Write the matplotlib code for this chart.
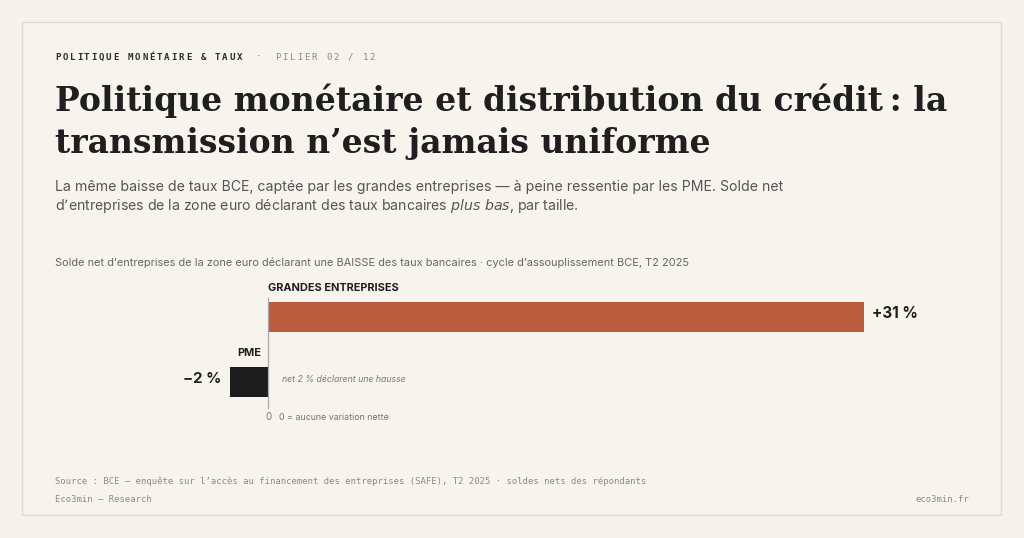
import matplotlib.pyplot as plt
from matplotlib.patches import Rectangle

# data
categories = ["GRANDES ENTREPRISES", "PME"]
values = [31, -2]
value_labels = ["+31 %", "\u22122 %"]
bar_colors = ["#b95c3e", "#1c1c1c"]

W, H = 1024, 538
BG = "#f6f3ec"
INK = "#1f1f1f"
GREY = "#6b6b6b"

fig = plt.figure(figsize=(W / 100, H / 100), dpi=100, facecolor=BG)


def px(x, y):
    # pixel coords (top-left origin) -> figure fraction
    return x / W, 1 - y / H


# card frame
fig.patches.append(Rectangle(px(22, 515), 979 / W, 493 / H, transform=fig.transFigure,
                             facecolor="#f7f4ee", edgecolor="#e0dbcf", linewidth=1.0, zorder=-1))


def tracked(x, y, s, step, **kw):
    # monospace text with letter spacing, one char at a time
    for i, ch in enumerate(s):
        fig.text(*px(x + i * step, y), ch, ha="left", va="center", family="DejaVu Sans Mono", **kw)
    return x + len(s) * step


x_end = tracked(55, 57, "POLITIQUE MONÉTAIRE & TAUX", 7.27, fontsize=6.6, fontweight="bold", color="#2b2b2b")
x_end = tracked(x_end + 12, 57, "·", 7.27, fontsize=6.6, color="#8a8a8a")
tracked(x_end + 12, 57, "PILIER 02 / 12", 7.27, fontsize=6.6, color="#8a8a8a")

# title
fig.text(*px(55, 101), "Politique monétaire et distribution du crédit\u202f: la",
         family="DejaVu Serif", fontweight="bold", fontsize=23.8, color=INK, va="center", ha="left")
fig.text(*px(55, 144), "transmission n\u2019est jamais uniforme",
         family="DejaVu Serif", fontweight="bold", fontsize=23.8, color=INK, va="center", ha="left")

# subtitle
fig.text(*px(55, 187), "La même baisse de taux BCE, captée par les grandes entreprises \u2014 à peine ressentie par les PME. Solde net",
         family="Inter", fontsize=10.15, color="#555555", va="center", ha="left")
fig.text(*px(55, 206), "d\u2019entreprises de la zone euro déclarant des taux bancaires $\\it{plus\\ bas}$, par taille.",
         family="Inter", fontsize=10.15, color="#555555", va="center", ha="left")

# chart caption
fig.text(*px(55, 263), "Solde net d\u2019entreprises de la zone euro déclarant une BAISSE des taux bancaires · cycle d\u2019assouplissement BCE, T2 2025",
         family="Inter", fontsize=7.9, color="#666666", va="center", ha="left")

# bar axes: zero at x=268 px, 31 at x=864 px
scale = (864 - 268) / values[0]
ax_l, ax_r = 160, 960
ax_t, ax_b = 290, 410
ax = fig.add_axes([ax_l / W, 1 - ax_b / H, (ax_r - ax_l) / W, (ax_b - ax_t) / H])
ax.set_facecolor("none")
ax.set_xlim((ax_l - 268) / scale, (ax_r - 268) / scale)
row = 65.0
ax.set_ylim(-27 / row + (ax_b - ax_t) / row, -27 / row)

ypos = list(range(len(categories)))
ax.barh(ypos, values, height=30 / row, color=bar_colors, zorder=2)
ax.axvline(0, ymin=2 / 120, ymax=112 / 120, color="#a8a8a8", linewidth=0.9, zorder=3)
for s in ax.spines.values():
    s.set_visible(False)
ax.set_xticks([])
ax.set_yticks([])

# labels
ax.text(0, ypos[0] - 29 / row, categories[0], ha="left", va="center",
        family="Inter", fontweight="bold", fontsize=7.9, color=INK)
ax.text(values[1] / 2, ypos[1] - 29 / row, categories[1], ha="center", va="center",
        family="Inter", fontweight="bold", fontsize=7.9, color=INK)
ax.text(values[0] + 8 / scale, ypos[0] - 3 / row, value_labels[0], ha="left", va="center",
        family="Inter", fontweight="bold", fontsize=11, color=INK)
ax.text(values[1] - 8 / scale, ypos[1] - 3 / row, value_labels[1], ha="right", va="center",
        family="Inter", fontweight="bold", fontsize=10.8, color=INK)
ax.text(14 / scale, ypos[1] - 2 / row, "net 2 % déclarent une hausse", ha="left", va="center",
        family="Inter", style="italic", fontsize=6.3, color="#7a7a7a")
ax.text(0, ypos[1] + 35 / row, "0", ha="center", va="center", family="Inter", fontsize=7, color="#777777")
ax.text(11 / scale, ypos[1] + 35 / row, "0 = aucune variation nette", ha="left", va="center",
        family="Inter", fontsize=6.4, color="#777777")

# footer
fig.text(*px(55, 481), "Source\u202f: BCE \u2014 enquête sur l\u2019accès au financement des entreprises (SAFE), T2 2025 · soldes nets des répondants",
         family="DejaVu Sans Mono", fontsize=6.4, color="#8a8a8a", va="center", ha="left")
fig.text(*px(55, 499), "Eco3min \u2014 Research", family="DejaVu Sans Mono", fontsize=6.4,
         color="#8a8a8a", va="center", ha="left")
fig.text(*px(969, 499), "eco3min.fr", family="DejaVu Sans Mono", fontsize=6.4,
         color="#8a8a8a", va="center", ha="right")

fig.savefig("out.png", dpi=100, facecolor=BG)
